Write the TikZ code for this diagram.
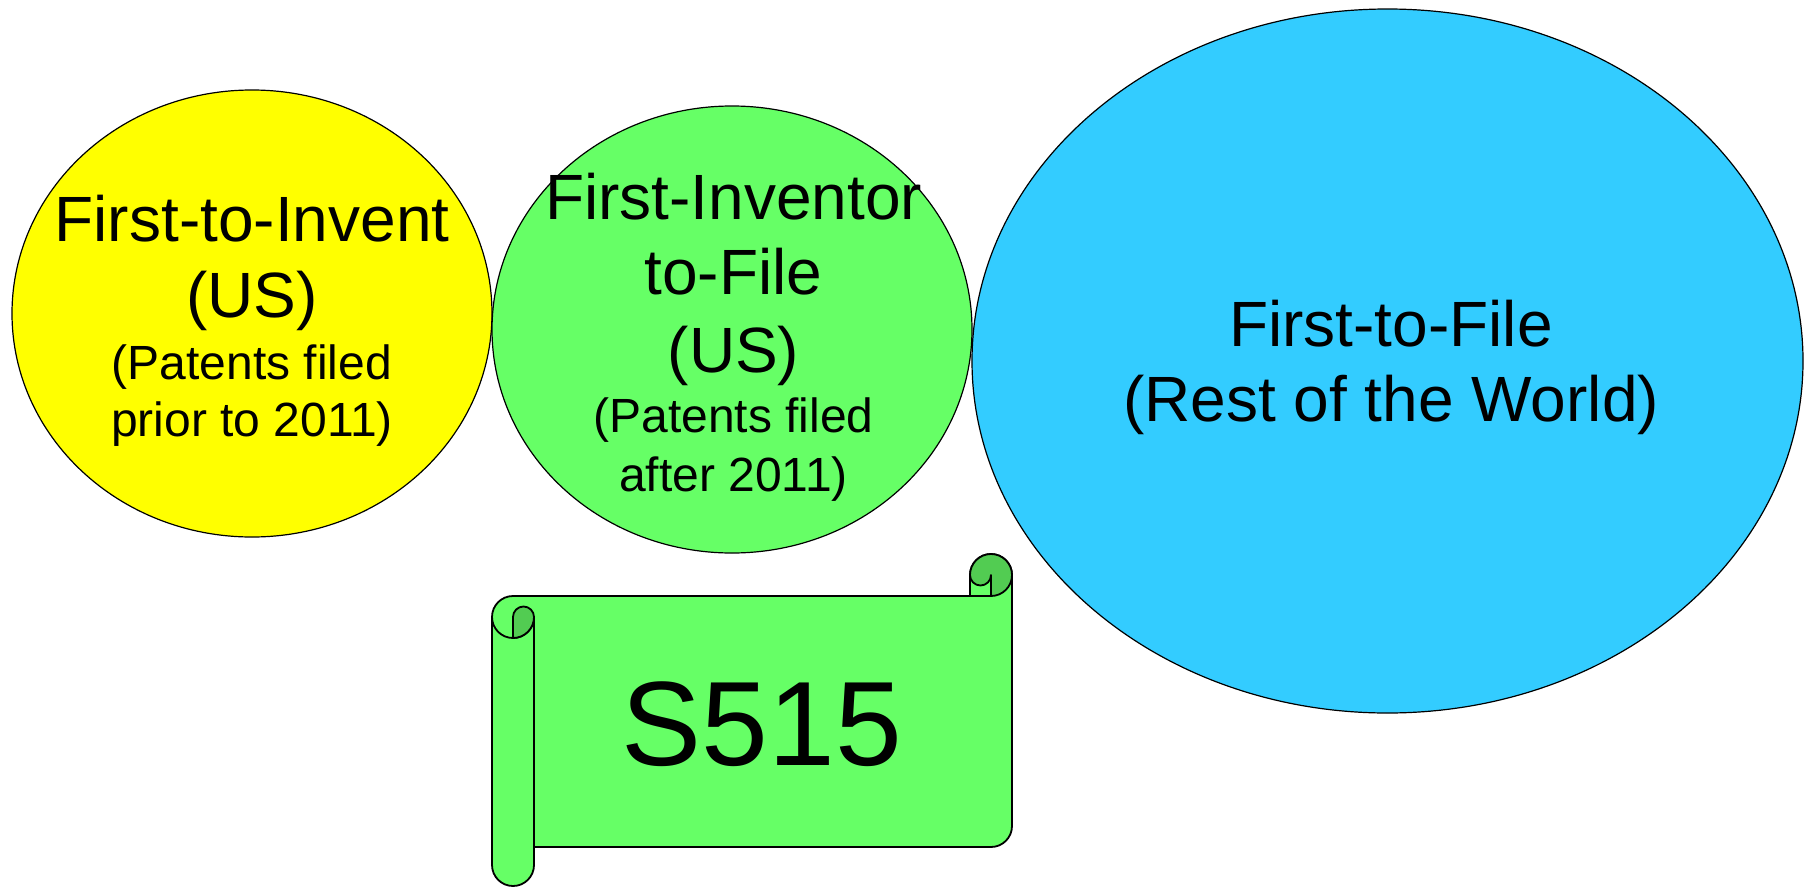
\documentclass[tikz,border=0pt]{standalone}
\usepackage{fontspec}
\setmainfont{Liberation Sans}
\usetikzlibrary{shapes.geometric}

\definecolor{inventyellow}{HTML}{FFFF00}
\definecolor{filegreen}{HTML}{66FF66}
\definecolor{curlgreen}{HTML}{52CC52}
\definecolor{worldblue}{HTML}{33CCFF}

\tikzset{
  bubble/.style={ellipse,draw,line width=1.2pt,inner sep=0pt,outer sep=0pt},
  bigtext/.style={align=center,inner sep=0pt,font=\fontsize{64}{76}\selectfont},
  scrollline/.style={draw,line width=1.8pt,line join=round},
}
\newcommand{\smalltxt}{\fontsize{48}{57}\selectfont}

\begin{document}
\begin{tikzpicture}[x=1pt,y=-1pt]
\useasboundingbox (0,0) rectangle (1811,886);

\node[bubble,fill=inventyellow,minimum width=480pt,minimum height=447pt] (invent) at (252,313.5) {};
\node[bubble,fill=filegreen,minimum width=480pt,minimum height=447pt] (aia) at (732,329.5) {};
\node[bubble,fill=worldblue,minimum width=831pt,minimum height=704pt] (world) at (1387.5,361) {};

\node[bigtext] (inventlbl) at (252,321.2) {First-to-Invent\\(US)\\[-14pt]{\smalltxt (Patents filed}\\[-19pt]{\smalltxt prior to 2011)}};
\node[bigtext] (aialbl) at (733.5,337.7) {First-Inventor\\[-1pt]to-File\\[2pt](US)\\[-16pt]{\smalltxt (Patents filed}\\[-17pt]{\smalltxt after 2011)}};
\node[bigtext] (worldlbl) at (1391,367.9) {First-to-File\\[-1pt](Rest of the World)};

% scroll
\draw[scrollline,fill=filegreen] (492,617) arc[start angle=180,end angle=270,radius=21] -- (970,596) -- (970,575)
  arc[start angle=180,end angle=360,radius=21] -- (1012,826) arc[start angle=0,end angle=90,radius=21]
  -- (534,847) -- (534,865) arc[start angle=0,end angle=180,radius=21] -- cycle;
\draw[scrollline,fill=curlgreen] (991,596) arc[start angle=90,end angle=-180,radius=21]
  arc[start angle=180,end angle=0,radius=10.5] -- cycle;
\draw[scrollline] (970,596) -- (991,596);
\draw[scrollline] (492,617) arc[start angle=180,end angle=0,radius=21];
\draw[scrollline,fill=curlgreen] (513,638) -- (513,617) arc[start angle=180,end angle=360,radius=10.5]
  arc[start angle=0,end angle=90,radius=21] -- cycle;
\draw[scrollline] (534,617) -- (534,847);

\node[inner sep=0pt,font=\fontsize{120}{144}\selectfont] (billlbl) at (762,723.8) {S515};
\end{tikzpicture}
\end{document}
